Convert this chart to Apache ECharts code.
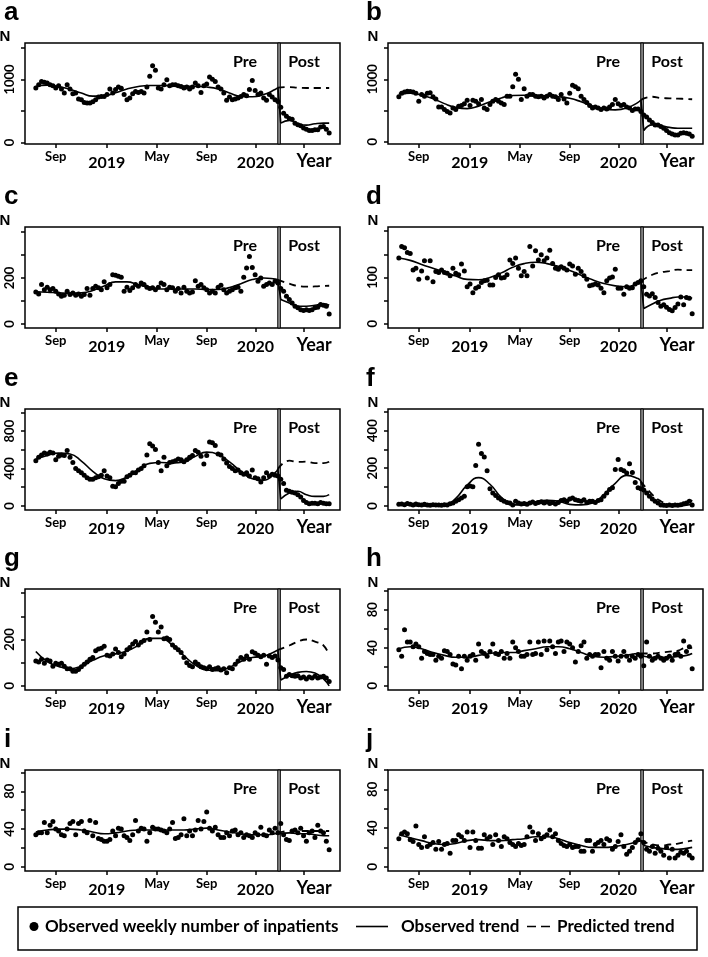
<!DOCTYPE html>
<html lang="en" style="height: 100%">
<head>
<meta charset="utf-8">
<title>Weekly inpatients</title>
</head>
<body style="height: 100%; margin: 0; background: #fff">
<div id="container" style="width: 708px; height: 957px"></div>
<script src="https://cdn.jsdelivr.net/npm/echarts@6/dist/echarts.min.js"></script>
<script>
// weekly counts, week 0 = mid July 2018, weeks 0..85 pre, 86..103 post
let pointsA = [865,915,970,955,945,915,900,865,900,850, 785,915,850,775,785,690,680,635,625,625, 645,680,720,730,730,760,850,785,840,880, 860,760,680,705,775,810,795,810,785,880, 1050,1220,1145,865,850,915,995,900,915,915, 900,890,865,880,850,880,945,900,795,900, 930,1040,1005,970,880,850,785,670,720,680, 690,705,730,760,740,840,985,825,760,785, 705,670,760,720,680,650,560,465,415,380, 370,305,280,265,230,210,190,190,200,200, 245,255,210,150];
let pointsB = [720,775,795,810,805,795,775,650,755,730, 775,785,720,685,555,555,515,485,460,540, 515,570,580,610,665,580,665,650,610,675, 540,515,595,650,675,650,620,595,730,730, 880,1080,1000,675,850,730,755,755,730,720, 730,700,730,755,730,720,675,755,685,620, 775,905,880,850,730,675,630,580,540,555, 540,515,540,525,555,595,675,610,580,595, 555,540,500,525,525,485,430,395,350,310, 270,270,245,215,180,145,125,110,110,135, 145,135,125,90];
let pointsC = [139,130,171,149,159,149,154,142,130,120, 125,142,128,135,125,130,120,128,154,125, 154,164,157,149,183,157,171,214,212,207, 203,142,159,145,157,171,164,178,171,159, 154,157,149,159,178,171,149,159,157,142, 154,135,159,142,135,139,188,164,171,157, 149,135,142,135,159,168,149,135,142,149, 157,159,142,203,243,294,246,214,186,200, 164,171,178,171,186,178,154,142,120,106, 91,77,70,62,58,62,58,62,70,72, 84,81,77,43];
let pointsD = [142,167,164,154,152,116,120,96,114,136, 99,136,91,113,111,116,111,109,104,120, 109,106,129,114,80,86,67,77,80,89, 93,94,84,84,100,106,99,100,106,138, 130,142,120,104,113,104,167,125,158,138, 149,136,142,159,130,120,118,123,120,116, 129,125,107,120,113,104,96,82,84,86, 84,77,67,93,99,101,118,77,77,64, 80,77,78,86,89,93,80,64,60,65, 57,46,38,41,36,31,28,35,43,58, 41,57,55,22];
let pointsE = [484,520,545,567,556,575,567,495,531,545, 538,593,520,465,400,375,356,327,302,284, 284,302,313,327,375,320,302,211,204,240, 265,265,313,327,356,356,385,400,429,545, 665,640,604,465,375,520,429,465,473,484, 502,495,473,495,520,538,593,575,531,447, 538,684,676,647,556,545,502,458,422,400, 375,385,356,338,356,320,385,302,291,255, 302,356,320,338,327,320,284,240,167,156, 145,138,120,95,58,36,22,29,29,22, 36,29,22,22];
let pointsF = [8,10,6,12,8,5,10,6,4,8, 5,3,6,4,5,3,6,5,11,15, 24,33,42,51,102,105,102,215,327,278, 260,187,91,69,55,42,33,24,18,15, 5,24,15,10,12,8,15,20,12,18, 22,15,20,12,18,10,18,29,33,24, 36,42,33,29,24,33,18,24,24,18, 29,33,51,69,87,96,193,247,193,187, 175,224,178,124,96,91,84,69,51,36, 24,15,5,3,2,4,2,5,3,6, 11,15,24,5];
let pointsG = [107,103,115,97,112,107,85,97,93,97, 85,74,74,63,63,71,82,93,103,115, 122,151,159,162,171,132,129,137,159,144, 126,137,156,166,181,191,176,188,196,232, 200,299,274,232,254,203,206,200,176,166, 156,144,122,100,88,82,103,93,82,78, 74,82,71,74,78,68,74,56,78,74, 93,107,122,115,129,115,147,141,132,126, 132,93,129,122,129,112,78,71,41,49, 44,41,44,34,38,29,38,34,41,34, 38,41,34,19];
let pointsH = [38,31,59,46,46,41,44,41,29,36, 34,33,33,27,31,29,37,36,33,23, 22,31,18,31,27,31,33,27,44,36, 34,31,36,44,34,33,36,29,34,29, 46,40,36,31,31,33,46,33,34,46, 33,47,38,47,41,34,46,47,36,46, 44,40,25,36,42,46,29,33,31,33, 33,19,36,29,27,36,31,26,31,36, 31,27,31,29,33,31,21,46,31,27, 29,31,29,27,29,31,27,33,34,31, 47,36,41,18];
let pointsI = [34,36,36,47,36,44,48,40,38,34, 33,40,46,48,34,46,48,38,36,49, 33,47,30,29,27,27,29,38,33,41, 40,33,31,28,34,49,38,41,40,27, 36,42,40,40,39,38,36,40,47,30, 31,34,51,33,38,33,39,49,40,48, 58,41,38,42,34,31,31,36,33,38, 39,34,36,31,34,33,31,36,34,42, 34,33,39,36,41,36,46,34,29,28, 38,39,36,41,33,27,36,38,31,44, 38,36,27,18];
let pointsJ = [29,34,36,34,28,26,42,23,20,31, 21,23,25,18,26,18,23,24,14,27, 27,33,31,27,36,20,36,27,19,19, 33,29,31,23,33,27,21,31,29,25, 23,21,24,22,23,31,41,36,27,34, 29,31,33,38,31,34,27,24,22,21, 23,20,21,21,16,16,27,27,16,23, 25,27,23,29,27,18,21,26,33,21, 13,16,20,25,28,34,25,18,16,21, 14,19,16,12,20,9,18,9,12,15, 14,16,12,9];

// observed trend before the break, at these weeks
let preWeeks = [0,4,8,12,16,20,24,28,32,36,40,44,48,52,56,60,64,68,72,76,80,84,85];
let trendA = [890,910,890,845,785,735,740,790,850,890,905,905,900,895,890,880,850,785,730,725,760,840,870];
let trendB = [770,775,745,690,610,550,530,570,640,700,740,745,740,735,720,695,640,570,520,510,540,630,670];
let trendC = [140,138,135,133,135,145,165,183,183,170,158,152,152,152,152,150,150,158,175,193,200,195,192];
let trendD = [142,137,128,120,112,103,96,95,100,110,122,130,133,130,124,115,105,95,87,82,80,88,92];
let trendE = [500,540,565,555,480,370,290,270,310,390,455,465,460,470,530,575,550,470,370,290,275,355,395];
let trendF = [5,3,0,0,0,40,110,150,115,45,5,5,22,30,25,8,5,15,60,120,162,145,130];
let trendG = [148,105,84,74,85,110,130,138,150,175,205,205,175,130,90,68,65,80,105,122,128,148,155];
let trendH = [39,41,39,35,32,30,30,32,34,35,35,37,39,41,41,39,35,31,30,31,32,34,34];
let trendI = [37,39,40,40,39,37,35,36,38,39,39,39,39,39,40,41,39,37,35,34,34,35,36];
let trendJ = [33,30,27,24,23,24,27,28,27,27,28,29,31,31,29,25,22,20,20,21,23,26,27];

// observed trend after the break
let postWeeks = [86,89,92,95,98,101,103];
let postA = [307,350,297,275,297,307,307];
let postB = [180,270,255,230,215,215,215];
let postC = [106,91,77,77,81,87,81];
let postD = [33,43,51,55,58,58,55];
let postE = [73,138,156,120,102,102,120];
let postF = [85,40,5,0,0,3,10];
let postG = [25,45,58,62,55,30,0];
let postH = [31,30,30,30,31,32,34];
let postI = [35,36,35,35,34,33,33];
let postJ = [22,20,19,18,18,19,20];

// predicted trend (counterfactual)
let predWeeks = [85,89,92,95,98,101,103];
let predA = [870,880,870,865,865,865,865];
let predB = [670,720,700,695,690,685,680];
let predC = [192,175,165,162,163,165,166];
let predD = [92,106,111,114,117,116,116];
let predE = [395,484,470,473,458,458,473];
let predF = [130,60,25,5,0,10,30];
let predG = [155,174,191,200,191,174,132];
let predH = [34,34,35,36,37,40,40];
let predI = [36,38,38,38,38,38,38];
let predJ = [27,23,22,23,24,26,27];

// x axis
let tickWeeks = [7.0, 24.9, 42.5, 60.0, 77.1, 94.2];
let tickNames = ["Sep", "2019", "May", "Sep", "2020", "Year"];
let breakWeek = 85.4;

let panels = [
    { letter: "a", pts: pointsA, pre: trendA, post: postA, pred: predA, min: -25, max: 1580, ticks: [0, 500, 1000, 1500], labels: [0, 1000] },
    { letter: "b", pts: pointsB, pre: trendB, post: postB, pred: predB, min: -36, max: 1580, ticks: [0, 500, 1000, 1500], labels: [0, 1000] },
    { letter: "c", pts: pointsC, pre: trendC, post: postC, pred: predC, min: -18, max: 422, ticks: [0, 100, 200, 300, 400], labels: [0, 200] },
    { letter: "d", pts: pointsD, pre: trendD, post: postD, pred: predD, min: -9, max: 209, ticks: [0, 50, 100, 150, 200], labels: [0, 100] },
    { letter: "e", pts: pointsE, pre: trendE, post: postE, pred: predE, min: -44, max: 1037, ticks: [0, 200, 400, 600, 800, 1000], labels: [0, 400, 800] },
    { letter: "f", pts: pointsF, pre: trendF, post: postF, pred: predF, min: -22, max: 515, ticks: [0, 100, 200, 300, 400, 500], labels: [0, 200, 400] },
    { letter: "g", pts: pointsG, pre: trendG, post: postG, pred: predG, min: -18, max: 418, ticks: [0, 100, 200, 300, 400], labels: [0, 200] },
    { letter: "h", pts: pointsH, pre: trendH, post: postH, pred: predH, min: -4.4, max: 101.8, ticks: [0, 20, 40, 60, 80, 100], labels: [0, 40, 80] },
    { letter: "i", pts: pointsI, pre: trendI, post: postI, pred: predI, min: -4.4, max: 102.6, ticks: [0, 20, 40, 60, 80, 100], labels: [0, 40, 80] },
    { letter: "j", pts: pointsJ, pre: trendJ, post: postJ, pred: predJ, min: -4.4, max: 100, ticks: [0, 20, 40, 60, 80, 100], labels: [0, 40, 80] }
];

const FONT = "Lato, 'Liberation Sans', sans-serif";
const X_MIN = -3.8;
const X_MAX = 106.8;
let colLeft = [25, 388];
let rowTop = [43, 227, 409, 589, 770];
let boxW = 315;
let boxH = 101;

const NAME_PTS = "Observed weekly number of inpatients";
const NAME_OBS = "Observed trend";
const NAME_PRED = "Predicted trend";

// legend icons, each drawn in a 40 x 10 box
const ICON_DOT = "path://M0,0M40,10M29.5,5A4.5,4.5,0,1,1,38.5,5A4.5,4.5,0,1,1,29.5,5Z";
const ICON_LINE = "path://M0,0M40,10M0,4.2H32V5.8H0Z";
const ICON_DASH = "path://M0,0M40,10M15,4.2H24V5.8H15ZM29,4.2H38V5.8H29Z";

function pairs(weeks, vals) {
    return weeks.map(function (w, k) { return [w, vals[k]]; });
}

function legendItem(name, icon, left) {
    return {
        left: left, top: 918, padding: 0,
        itemWidth: 40, itemHeight: 10, selectedMode: false,
        textStyle: { fontFamily: FONT, fontWeight: "bold", fontSize: 17, color: "#000" },
        data: [{ name: name, icon: icon, itemStyle: { color: "#000", opacity: 1 } }]
    };
}

function drawChart() {
    let dom = document.getElementById("container");
    let chart = echarts.init(dom, null, { renderer: "canvas" });

    let grids = [];
    let xAxes = [];
    let yAxes = [];
    let series = [];
    let graphics = [];

    panels.forEach(function (p, i) {
        let col = i % 2;
        let row = Math.floor(i / 2);
        let left = colLeft[col];
        let top = rowTop[row];

        grids.push({
            left: left, top: top, width: boxW, height: boxH,
            show: true, borderColor: "#000", borderWidth: 1.5,
            backgroundColor: "transparent", containLabel: false, outerBoundsMode: "none"
        });

        xAxes.push({
            type: "value", gridIndex: i, min: X_MIN, max: X_MAX, position: "bottom",
            axisLine: { show: false, onZero: false },
            splitLine: { show: false },
            axisTick: { show: true, customValues: tickWeeks, length: 4, lineStyle: { color: "#000", width: 1.5 } },
            axisLabel: {
                customValues: tickWeeks, margin: 6, color: "#000",
                formatter: function (v) {
                    let k = tickWeeks.indexOf(v);
                    let name = tickNames[k];
                    if (name === "Year") return "{yr|Year}";
                    if (/^\d/.test(name)) return "{y|" + name + "}";
                    return "{m|" + name + "}";
                },
                rich: {
                    m: { fontFamily: FONT, fontWeight: "bold", fontSize: 13, lineHeight: 14, color: "#000" },
                    y: { fontFamily: FONT, fontWeight: "bold", fontSize: 16, lineHeight: 16, padding: [9, 0, 0, 0], color: "#000" },
                    yr: { fontFamily: FONT, fontWeight: "bold", fontSize: 18, lineHeight: 18, padding: [4, 0, 0, 20], color: "#000" }
                }
            }
        });

        yAxes.push({
            type: "value", gridIndex: i, min: p.min, max: p.max, position: "left",
            axisLine: { show: false, onZero: false },
            splitLine: { show: false },
            axisTick: { show: true, customValues: p.ticks, length: 4, lineStyle: { color: "#000", width: 1.5 } },
            axisLabel: {
                customValues: p.labels, rotate: 90, margin: 9, color: "#000",
                fontFamily: FONT, fontWeight: "bold", fontSize: 13,
                formatter: function (v) { return String(v); }
            }
        });

        let preEnd = p.pre[p.pre.length - 1];
        let lineBase = {
            type: "line", xAxisIndex: i, yAxisIndex: i, symbol: "none",
            silent: true, animation: false, z: 3,
            itemStyle: { color: "#000" }
        };

        series.push({
            name: NAME_PTS, type: "scatter", xAxisIndex: i, yAxisIndex: i,
            symbol: "circle", symbolSize: 5, animation: false, silent: true,
            itemStyle: { color: "#000", opacity: 1 },
            data: p.pts.map(function (v, w) { return [w, v]; }),
            markArea: {
                silent: true,
                itemStyle: { color: "#9a9a9a", borderColor: "#000", borderWidth: 1, opacity: 1 },
                data: [[{ xAxis: breakWeek - 0.45 }, { xAxis: breakWeek + 0.45 }]]
            }
        });
        series.push(Object.assign({}, lineBase, {
            name: NAME_OBS, smooth: 0.5,
            lineStyle: { color: "#000", width: 1.6 },
            data: pairs(preWeeks, p.pre)
        }));
        series.push(Object.assign({}, lineBase, {
            name: NAME_OBS, smooth: false,
            lineStyle: { color: "#000", width: 1.6 },
            data: [[preWeeks[preWeeks.length - 1], preEnd], [postWeeks[0], p.post[0]]]
        }));
        series.push(Object.assign({}, lineBase, {
            name: NAME_OBS, smooth: 0.5,
            lineStyle: { color: "#000", width: 1.6 },
            data: pairs(postWeeks, p.post)
        }));
        series.push(Object.assign({}, lineBase, {
            name: NAME_PRED, smooth: 0.5,
            lineStyle: { color: "#000", width: 1.8, type: [7, 5] },
            data: pairs(predWeeks, p.pred)
        }));

        let breakPx = left + (breakWeek - X_MIN) / (X_MAX - X_MIN) * boxW;
        graphics.push({
            type: "text", x: col === 0 ? 4 : 366, y: top - 30,
            style: { text: p.letter, font: "bold 26px 'Liberation Sans', Arial, sans-serif", fill: "#000", verticalAlign: "middle", align: "left" }
        });
        graphics.push({
            type: "text", x: left - (col === 0 ? 20 : 15), y: top - 6,
            style: { text: "N", font: "bold 15px 'Liberation Sans', Arial, sans-serif", fill: "#000", verticalAlign: "middle", align: "center" }
        });
        graphics.push({
            type: "text", x: breakPx - 34, y: top + 19,
            style: { text: "Pre", font: "bold 16px " + FONT, fill: "#000", verticalAlign: "middle", align: "center" }
        });
        graphics.push({
            type: "text", x: breakPx + 25, y: top + 19,
            style: { text: "Post", font: "bold 16px " + FONT, fill: "#000", verticalAlign: "middle", align: "center" }
        });
    });

    graphics.push({
        type: "rect", shape: { x: 18, y: 907, width: 679, height: 43 },
        style: { fill: "none", stroke: "#000", lineWidth: 1.5 }
    });

    let option = {
        backgroundColor: "#fff",
        animation: false,
        grid: grids,
        xAxis: xAxes,
        yAxis: yAxes,
        series: series,
        legend: [
            legendItem(NAME_PTS, ICON_DOT, 0),
            legendItem(NAME_OBS, ICON_LINE, 356),
            legendItem(NAME_PRED, ICON_DASH, 512)
        ],
        graphic: graphics
    };

    if (option && typeof option === "object") {
        chart.setOption(option);
    }
}

drawChart();
</script>
</body>
</html>
